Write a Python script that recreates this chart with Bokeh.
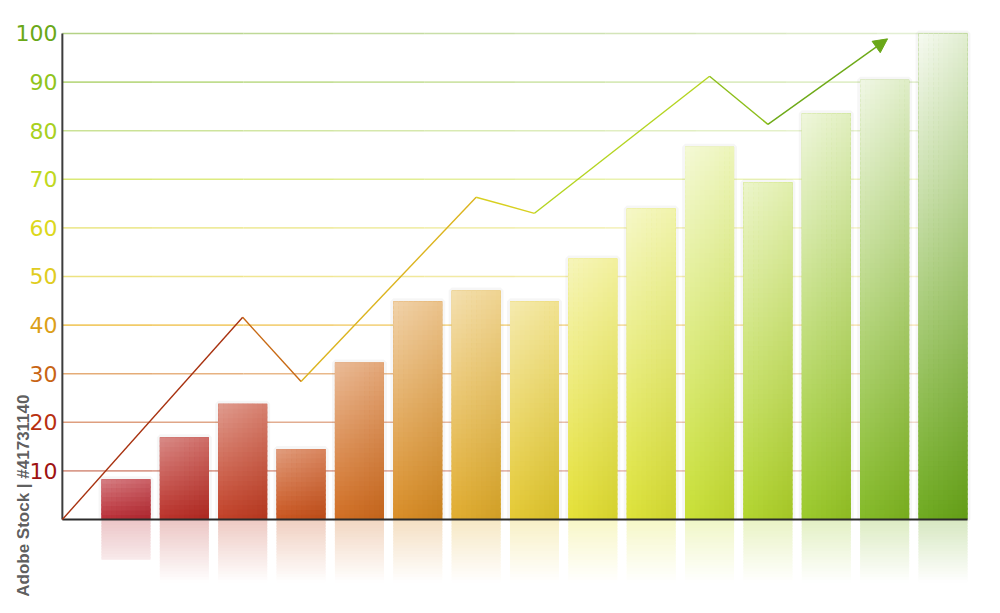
import math
import numpy as np
from bokeh.plotting import figure
from bokeh.models import Range1d, Arrow, NormalHead
from bokeh.core.properties import value
from bokeh.embed import file_html
from bokeh.resources import INLINE

# ---------------- data ----------------
categories = list(range(1, 16))
bar_values = [8.3, 16.9, 23.8, 14.5, 32.3, 44.9, 47.1, 44.9, 53.7, 64.0, 76.7, 69.4, 83.6, 90.5, 100.0]
bar_colors = ["#b82830", "#b82a22", "#c03a20", "#c85018", "#d06a1c", "#d88a20", "#e0aa28",
              "#e4c82c", "#e4e030", "#dce232", "#c8e030", "#b0d428", "#98c824", "#80b820", "#6aa818"]

trend_x = [-0.09, 3, 4, 7, 8, 11, 12, 14.05]
trend_y = [0, 41.6, 28.4, 66.3, 63.0, 91.2, 81.3, 98.9]
trend_colors = ["#a83210", "#c86a14", "#dcb41e", "#d8d020", "#b4d420", "#8cbe1a", "#6eaa18"]

tick_values = [10, 20, 30, 40, 50, 60, 70, 80, 90, 100]
tick_labels = ["10", "20", "30", "40", "50", "60", "70", "80", "90", "100"]
tick_colors = ["#9e1212", "#b83010", "#c86414", "#dca018", "#e0cc20", "#dcd81c", "#c0d820", "#a8d020", "#90c41c", "#6aa818"]
grid_colors = ["#d89888", "#dc9a78", "#e4a870", "#f0c860", "#ece07a", "#ece890", "#d8e870", "#c8e090", "#b8d880", "#b0d080"]

watermark = "Adobe Stock | #41731140"

AXIS_X = -0.09
X_END = 15.42
BAR_W = 0.84


def rgb(h):
    h = h.lstrip("#")
    return [int(h[i:i + 2], 16) for i in (0, 2, 4)]


def to_hex(c):
    return "#%02x%02x%02x" % tuple(max(0, min(255, int(round(v)))) for v in c)


def blend(c, w, dark=0.0):
    r = [v + (255 - v) * w for v in c]
    return to_hex([v * (1 - dark) for v in r])


p = figure(width=984, height=597, output_backend="svg", toolbar_location=None,
           x_range=Range1d(-1.150, 15.711), y_range=Range1d(-16.05, 106.79),
           x_axis_location=None, y_axis_location=None, min_border=0)
p.outline_line_color = None
p.grid.visible = False
p.background_fill_color = "white"
p.border_fill_color = "white"

# ---- gridlines (fading to the right) ----
n_piece = 10
edges = np.linspace(AXIS_X, X_END, n_piece + 1)
gx0, gx1, gy, gc, ga = [], [], [], [], []
for tv, col in zip(tick_values, grid_colors):
    for k in range(n_piece):
        gx0.append(edges[k]); gx1.append(edges[k + 1]); gy.append(tv); gc.append(col)
        ga.append(0.95 - 0.6 * k / (n_piece - 1))
p.segment(x0=gx0, y0=gy, x1=gx1, y1=gy, line_color=gc, line_alpha=ga, line_width=1.6)

# ---- bar glow ----
p.vbar(x=categories, top=bar_values, width=BAR_W, fill_color=None,
       line_color="#000000", line_alpha=0.035, line_width=6)
p.vbar(x=categories, top=bar_values, width=BAR_W, fill_color=bar_colors, line_color=None)

# ---- bar gradient cells (overlapping, no strokes -> no seams) ----
cl, cr, cb, ct, cc = [], [], [], [], []
ncols = 10
for x, h, base in zip(categories, bar_values, bar_colors):
    c = rgb(base)
    nrows = max(3, int(math.ceil(h / 1.0)))
    ys = np.linspace(0, h, nrows + 1)
    xs = np.linspace(x - BAR_W / 2, x + BAR_W / 2, ncols + 1)
    topw = 0.22 + 0.58 * h / 100.0
    for r in range(nrows):
        t = (ys[r] + ys[r + 1]) / 2 / h
        top = ys[r + 1] + (0.4 if r < nrows - 1 else 0.0)
        for k in range(ncols):
            s = (k + 0.5) / ncols
            w = t * topw + 0.10 * (1 - s) * (0.4 + t)
            w = min(w, 0.93)
            right = xs[k + 1] + (0.01 if k < ncols - 1 else 0.0)
            cl.append(xs[k]); cr.append(right); cb.append(ys[r]); ct.append(top)
            cc.append(blend(c, w, dark=0.07 * s * (1 - t)))
p.quad(left=cl, right=cr, bottom=cb, top=ct, fill_color=cc, line_color=None)

# ---- reflections ----
rl, rr, rb, rt, rc = [], [], [], [], []
FADE = 13.0
for x, h, base in zip(categories, bar_values, bar_colors):
    c = rgb(base)
    depth = min(h, FADE)
    n = max(2, int(math.ceil(depth / 0.6)))
    ds = np.linspace(0, depth, n + 1)
    for r in range(n):
        dm = (ds[r] + ds[r + 1]) / 2
        a = 0.27 * (1 - dm / FADE)
        rl.append(x - BAR_W / 2); rr.append(x + BAR_W / 2)
        rt.append(-ds[r]); rb.append(-ds[r + 1] - (0.3 if r < n - 1 else 0.0))
        rc.append(blend(c, 1 - a))
p.quad(left=rl, right=rr, bottom=rb, top=rt, fill_color=rc, line_color=None)

# ---- axis lines ----
p.segment(x0=[AXIS_X, AXIS_X], y0=[0, 0], x1=[AXIS_X, X_END], y1=[100, 0],
          line_color=["#3c3c3c", "#2c2c2c"], line_width=2)

# ---- trend line ----
p.segment(x0=trend_x[:-2], y0=trend_y[:-2], x1=trend_x[1:-1], y1=trend_y[1:-1],
          line_color=trend_colors[:-1], line_width=1.4)
p.add_layout(Arrow(end=NormalHead(size=14, fill_color="#6aa818", line_color="#6aa818", line_width=1),
                   x_start=trend_x[-2], y_start=trend_y[-2], x_end=trend_x[-1], y_end=trend_y[-1],
                   line_color=trend_colors[-1], line_width=1.4))

# ---- tick labels ----
p.text(x=[-0.173] * len(tick_values), y=tick_values, text=tick_labels, text_color=tick_colors,
       text_font=value("DejaVu Sans"), text_font_size="22px", text_align="right",
       text_baseline="middle")

# ---- watermark ----
p.text(x=[-0.756], y=[-15.9], text=[watermark], angle=math.pi / 2, text_color="#4a4a4a",
       text_alpha=0.9, text_font=value("Liberation Sans"), text_font_size="17px",
       text_font_style="bold", text_align="left", text_baseline="middle")

open("out.html", "w").write(file_html(p, INLINE))
